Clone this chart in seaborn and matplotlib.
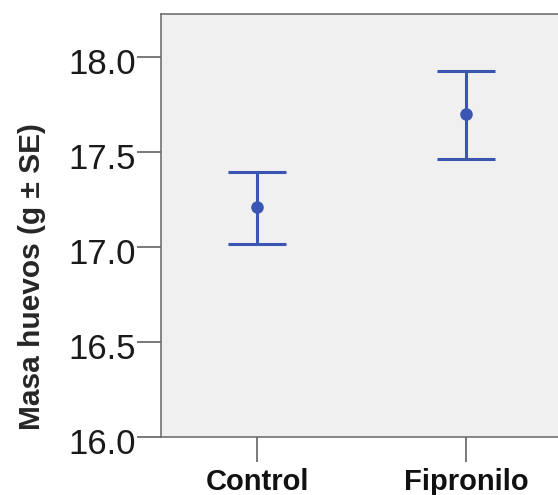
import matplotlib
matplotlib.use("Agg")
import matplotlib.pyplot as plt
import matplotlib.transforms as mtransforms
import seaborn as sns
import pandas as pd

groups = ["Control", "Fipronilo"]
means = [17.21, 17.70]
se_low = [17.015, 17.465]
se_high = [17.395, 17.925]
yticks = [16.0, 16.5, 17.0, 17.5, 18.0]

sns.set_theme(style="ticks")
plt.rcParams['font.family'] = ['Liberation Sans', 'DejaVu Sans']

W, H = 558, 495
fig = plt.figure(figsize=(W / 100, H / 100), dpi=100)
ax = fig.add_axes([161 / W, 58 / H, (562 - 161) / W, (437 - 14) / H])
ax.set_facecolor("#f0f0f0")

df = pd.DataFrame({"grupo": groups, "masa": means})
blue = "#3b55b2"
sns.pointplot(data=df, x="grupo", y="masa", color=blue, linestyle="none",
              errorbar=None, markersize=7, ax=ax)
lo_err = [m - l for m, l in zip(means, se_low)]
hi_err = [h - m for m, h in zip(means, se_high)]
ax.errorbar(range(len(groups)), means, yerr=[lo_err, hi_err], fmt="none",
            ecolor=blue, elinewidth=2.2, capsize=21, capthick=2.2, zorder=3)

ax.set_xlim(-0.46, 1.46)
ax.set_ylim(16.0, 18.226)
ax.set_yticks(yticks)
ax.set_yticklabels([f"{v:.1f}" for v in yticks], fontsize=25, color="#1a1a1a")
ax.set_xticks(range(len(groups)))
ax.set_xticklabels(groups, fontsize=21, fontweight="bold", color="#111111")
ax.set_xlabel("")
ax.set_ylabel("Masa huevos (g ± SE)", fontsize=21.5, fontweight="bold")
ax.yaxis.set_label_coords((46 - 161) / 401, (437 - 277) / 423)
ax.tick_params(axis="y", length=17, width=1.1, color="#555555", pad=1)
ax.tick_params(axis="x", length=18, width=1.1, color="#555555", pad=4)
shift = mtransforms.ScaledTranslation(0, -4 / 100, fig.dpi_scale_trans)
for lab in ax.get_yticklabels():
    lab.set_transform(lab.get_transform() + shift)
for s in ["left", "bottom", "top"]:
    ax.spines[s].set_visible(True)
    ax.spines[s].set_color("#666666")
    ax.spines[s].set_linewidth(1.1)
ax.spines["right"].set_visible(False)

fig.savefig("out.png", dpi=100, facecolor="white")
